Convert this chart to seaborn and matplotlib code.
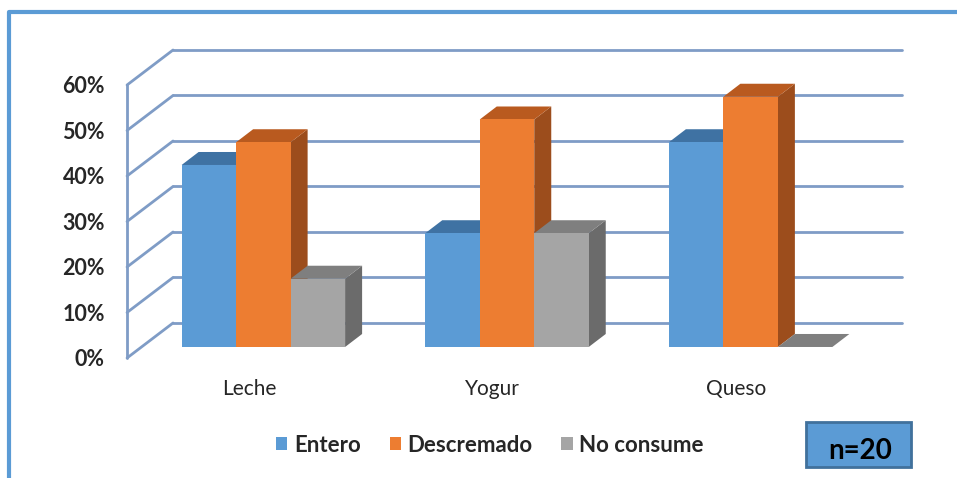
import matplotlib
matplotlib.use("Agg")
import matplotlib.pyplot as plt
import matplotlib.transforms as mtransforms
from matplotlib.colors import to_rgba
from matplotlib.patches import Polygon, Rectangle
from matplotlib.lines import Line2D
import pandas as pd
import seaborn as sns

# data
productos = ["Leche", "Yogur", "Queso"]
series = ["Entero", "Descremado", "No consume"]
entero = [0.40, 0.25, 0.45]
descremado = [0.45, 0.50, 0.55]
no_consume = [0.15, 0.25, 0.00]
yticks = [0, 0.1, 0.2, 0.3, 0.4, 0.5, 0.6]
ytick_labels = ["0%", "10%", "20%", "30%", "40%", "50%", "60%"]

df = pd.DataFrame({
    "Producto": productos * 3,
    "Tipo": [s for s in series for _ in productos],
    "Valor": entero + descremado + no_consume,
})

front_cols = ["#5B9BD5", "#ED7D31", "#A5A5A5"]
top_cols = ["#3F72A3", "#B95A1F", "#7F7F7F"]
side_cols = ["#3A6A98", "#9C4D1C", "#6B6B6B"]
grid_col = "#7F9CC6"

sns.set_style("white")
plt.rcParams["font.family"] = ["Lato", "DejaVu Sans"]

fig = plt.figure(figsize=(9.57, 4.78), dpi=100)
# axes = plane of the bar front faces
ax = fig.add_axes([0.1479, 0.2741, 0.7612, 0.5711])
sns.barplot(data=df, x="Producto", y="Valor", hue="Tipo", hue_order=series,
            palette=front_cols, width=0.671, saturation=1, ax=ax,
            legend=False, linewidth=0)
ax.set_xlim(-0.5, 2.49)
ax.set_ylim(0, 0.6)
ax.set_xlabel("")
ax.set_ylabel("")
for s in ax.spines.values():
    s.set_visible(False)

# pixel offsets (dpi 100 -> 0.01 in per px)
back = mtransforms.ScaledTranslation(0.315, 0.24, fig.dpi_scale_trans)
front = mtransforms.ScaledTranslation(-0.145, -0.11, fig.dpi_scale_trans)

# back wall gridlines
for t in yticks:
    ax.plot([0, 1], [t, t], color=grid_col, lw=2, zorder=0.5, clip_on=False,
            transform=ax.get_yaxis_transform() + back)

# left side wall: diagonals from front to back, and front vertical edge
for t in yticks:
    p0 = (ax.transData + front).transform((-0.5, t))
    p1 = (ax.transData + back).transform((-0.5, t))
    fig.add_artist(Line2D([p0[0], p1[0]], [p0[1], p1[1]], color=grid_col,
                          lw=2, transform=None, zorder=0.5))
pa = (ax.transData + front).transform((-0.5, 0))
pb = (ax.transData + front).transform((-0.5, 0.6))
fig.add_artist(Line2D([pa[0], pb[0]], [pa[1], pb[1]], color=grid_col,
                      lw=2, transform=None, zorder=0.5))

# 3d depth of bars
ddx = 17 / 243.5
ddy = 0.013 / 0.455
rgba_front = [tuple(round(c, 3) for c in to_rgba(fc)) for fc in front_cols]
bars = sorted(ax.patches, key=lambda p: p.get_x())
for i, bar in enumerate(bars):
    x0, w, h = bar.get_x(), bar.get_width(), bar.get_height()
    k = rgba_front.index(tuple(round(c, 3) for c in bar.get_facecolor()))
    x1 = x0 + w
    top = Polygon([(x0, h), (x1, h), (x1 + ddx, h + ddy), (x0 + ddx, h + ddy)],
                  closed=True, fc=top_cols[k], ec="none", zorder=2 + i * 0.1)
    side = Polygon([(x1, 0), (x1 + ddx, ddy), (x1 + ddx, h + ddy), (x1, h)],
                   closed=True, fc=side_cols[k], ec="none", zorder=2 + i * 0.1)
    ax.add_patch(side)
    ax.add_patch(top)
    bar.set_zorder(2.05 + i * 0.1)

# ticks
ax.set_yticks(yticks)
ax.set_yticklabels(ytick_labels, fontsize=15.5, fontweight="bold")
ax.tick_params(axis="y", length=0, pad=16)
for lab in ax.get_yticklabels():
    lab.set_transform(lab.get_transform() + front)
ax.tick_params(axis="x", length=0, pad=15, labelsize=15)
for lab in ax.get_xticklabels():
    lab.set_transform(lab.get_transform() + front)

# legend
handles = [Rectangle((0, 0), 1, 1, fc=c, ec="none") for c in front_cols]
leg = fig.legend(handles, series, loc="center", bbox_to_anchor=(0.512, 0.069),
                 ncol=3, frameon=False, handlelength=0.5, handleheight=0.5,
                 handletextpad=0.3, columnspacing=1.3,
                 prop={"weight": "bold", "size": 16})

# n=20 box
fig.add_artist(Rectangle((806 / 957, 1 - 467 / 478), 105 / 957, 45 / 478,
                         transform=fig.transFigure, fc="#5B9BD5",
                         ec="#41719C", lw=2))
fig.text(860 / 957, 1 - 451 / 478, "n=20", ha="center", va="center",
         fontsize=20, fontweight="bold", color="black")

# outer frame (top and left)
fig.add_artist(Line2D([9 / 957, 9 / 957, 1], [0, 1 - 12 / 478, 1 - 12 / 478],
                      transform=fig.transFigure, color="#5B9BD5", lw=3))

fig.savefig("out.png", dpi=100)
